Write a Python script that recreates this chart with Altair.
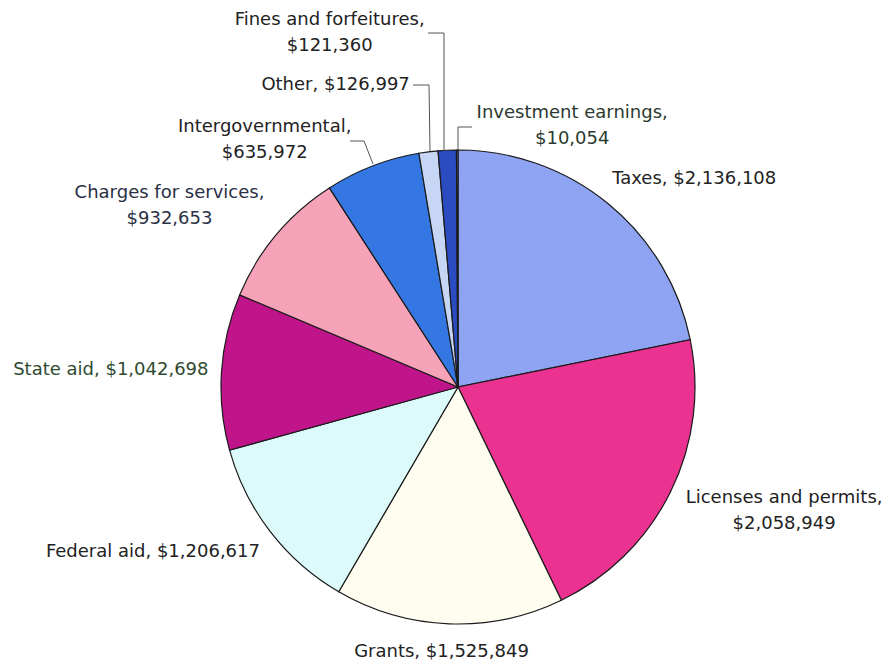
import altair as alt
import pandas as pd

# ---- data ----
categories = ["Taxes", "Licenses and permits", "Grants", "Federal aid", "State aid",
              "Charges for services", "Intergovernmental", "Other",
              "Fines and forfeitures", "Investment earnings"]
amounts = [2136108, 2058949, 1525849, 1206617, 1042698, 932653, 635972, 126997, 121360, 10054]
two_line = [False, True, False, False, False, True, True, False, True, True]

# ---- styles ----
colors = ["#8ea4f2", "#ec3290", "#fffdf0", "#dcfafa", "#c0158a",
          "#f6a2b8", "#3577e2", "#c6d6f4", "#2a4cc0", "#6f86e6"]
text_colors = ["#222222", "#222222", "#222222", "#222222", "#2f4a30",
               "#2a2f45", "#222222", "#222222", "#222222", "#2a3a30"]

# label layout: (align, dx, dy) relative to the slice's mid-angle anchor
label_layout = [("left", -4, -14), ("center", 102, 0), ("center", -7, 15),
                ("right", 0, 12), ("right", 0, -1), ("center", -97, -33),
                ("center", -103, -27), ("right", -17, -54), ("center", -117, -117),
                ("center", 115, -24)]

# leader line segments (x, y, x2, y2)
leaders = [(428, 33, 444, 33), (444, 33, 444, 151),
           (413, 85, 429, 85), (429, 85, 430, 151),
           (472, 127, 458, 127), (458, 127, 458, 150),
           (350, 141, 364, 141), (364, 141, 373, 164)]

CX, CY, R, LABEL_R = 458, 387, 237, 250
FONT = "DejaVu Sans"
total = sum(amounts)

labels = []
for c, a, t in zip(categories, amounts, two_line):
    sep = "\n" if t else " "
    labels.append(f"{c},{sep}${a:,}")

df = pd.DataFrame({"category": categories, "amount": amounts,
                   "idx": list(range(len(categories))), "label": labels})

pie = alt.Chart(df).mark_arc(outerRadius=R, stroke="#1a1a1a", strokeWidth=1.2).encode(
    theta=alt.Theta("amount:Q", stack=True, scale=alt.Scale(domain=[0, total])),
    color=alt.Color("category:N", scale=alt.Scale(domain=categories, range=colors), legend=None),
    order=alt.Order("idx:Q"),
    x=alt.value(CX), y=alt.value(CY),
)

layers = [pie]
for cat, (align, dx, dy), tc in zip(categories, label_layout, text_colors):
    t = (alt.Chart(df)
         .transform_window(cum="sum(amount)", sort=[alt.SortField("idx", order="ascending")], frame=[None, 0])
         .transform_calculate(mid="datum.cum - datum.amount / 2")
         .transform_filter(alt.datum.category == cat)
         .mark_text(radius=LABEL_R, align=align, baseline="middle", dx=dx, dy=dy,
                    font=FONT, fontSize=18, lineHeight=26, lineBreak="\n", color=tc)
         .encode(theta=alt.Theta("mid:Q", scale=alt.Scale(domain=[0, total])),
                 text="label:N", x=alt.value(CX), y=alt.value(CY)))
    layers.append(t)

lead_df = pd.DataFrame(leaders, columns=["x", "y", "x2", "y2"])
lead = alt.Chart(lead_df).mark_rule(color="#555555", strokeWidth=1).encode(
    x=alt.X("x:Q", scale=None), y=alt.Y("y:Q", scale=None),
    x2="x2:Q", y2="y2:Q")
layers.append(lead)

chart = alt.layer(*layers).resolve_scale(theta="independent").properties(
    width=892, height=666, autosize=alt.AutoSizeParams(type="none"), padding=0,
    background="white"
).configure_view(stroke=None)

chart.save("out.html", embed_options={"renderer": "svg", "actions": False})
